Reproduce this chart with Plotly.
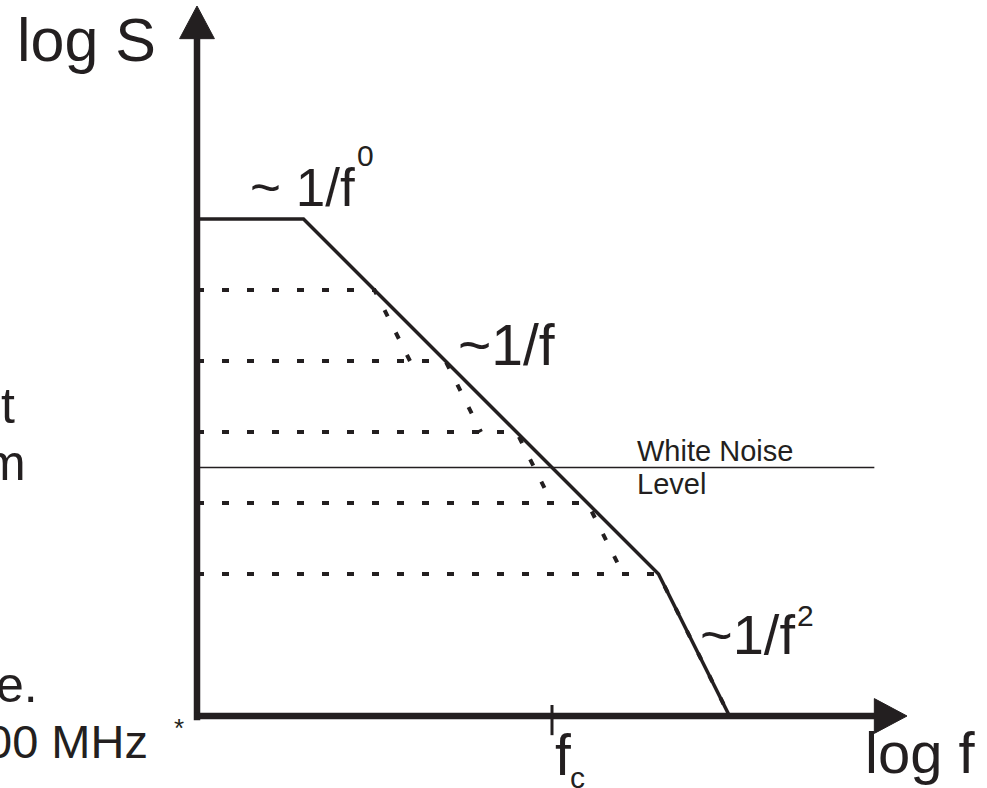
import plotly.graph_objects as go

# Spectral density sketch, axes in decades: log f (horizontal), log S (vertical)
INK = "#231f20"
FONT = "Liberation Sans, Arial, sans-serif"

# Total spectrum: flat plateau, 1/f region, 1/f^2 roll-off
total_logf = [0.0, 1.5, 6.5, 7.5]
total_logS = [7.0, 7.0, 2.0, 0.0]

# Individual Lorentzian contributions: plateau level, corner, end of drawn tail
lor_level = [6.0, 5.0, 4.0, 3.0, 2.0]
lor_corner = [2.5, 3.5, 4.5, 5.5, 6.5]
lor_tail_logf = [3.0, 4.0, 5.0, 6.0, 7.5]
lor_tail_logS = [5.0, 4.0, 3.0, 2.0, 0.0]

white_noise_level = 3.5
white_noise_end = 9.54
f_corner = 5.0
axis_end = 10.0

# scale: one decade = 71 px on a 987 x 788 canvas, origin at (197, 716)
W, H = 987, 788
UNIT = 71.0
X0, Y0 = 197.0, 716.0

fig = go.Figure()

# axes with arrowheads
head_len, head_half = 0.46, 0.245
fig.add_trace(go.Scatter(x=[0, 0], y=[-0.06, axis_end - head_len + 0.02], mode="lines",
                         line=dict(color=INK, width=6.5), hoverinfo="skip"))
fig.add_trace(go.Scatter(x=[-0.04, axis_end - head_len + 0.02], y=[0, 0], mode="lines",
                         line=dict(color=INK, width=6.5), hoverinfo="skip"))
fig.add_trace(go.Scatter(x=[-head_half, head_half, 0, -head_half],
                         y=[axis_end - head_len, axis_end - head_len, axis_end, axis_end - head_len],
                         mode="lines", fill="toself", fillcolor=INK,
                         line=dict(color=INK, width=1), hoverinfo="skip"))
fig.add_trace(go.Scatter(x=[axis_end - head_len, axis_end - head_len, axis_end, axis_end - head_len],
                         y=[-head_half, head_half, 0, -head_half],
                         mode="lines", fill="toself", fillcolor=INK,
                         line=dict(color=INK, width=1), hoverinfo="skip"))

# white noise level
fig.add_trace(go.Scatter(x=[0, white_noise_end], y=[white_noise_level] * 2, mode="lines",
                         line=dict(color=INK, width=1.5), hoverinfo="skip"))

# Lorentzian components (dashed)
for lvl, c, tx, ty in zip(lor_level, lor_corner, lor_tail_logf, lor_tail_logS):
    fig.add_trace(go.Scatter(x=[0, c, tx], y=[lvl, lvl, ty], mode="lines",
                             line=dict(color=INK, width=4, dash="7px,18px"),
                             hoverinfo="skip"))

# total spectrum (solid)
fig.add_trace(go.Scatter(x=total_logf, y=total_logS, mode="lines",
                         line=dict(color=INK, width=3.5), hoverinfo="skip"))

# corner-frequency tick
fig.add_trace(go.Scatter(x=[f_corner, f_corner], y=[0.155, -0.27], mode="lines",
                         line=dict(color=INK, width=3), hoverinfo="skip"))


def label(text, x, y, size, xanchor="left"):
    fig.add_annotation(text=text, x=x, y=y, xref="x", yref="y", showarrow=False,
                       xanchor=xanchor, yanchor="middle",
                       font=dict(family=FONT, size=size, color=INK))


label("log S", -2.56, 9.52, 61)
label("~ 1/f", 0.72, 7.45, 53)
label("0", 2.23, 7.90, 30)
label("~1/f", 3.65, 5.22, 57)
label("~1/f", 7.05, 1.15, 56)
label("2", 8.42, 1.42, 30)
label("f", 5.01, -0.552, 57)
label("c", 5.22, -0.87, 30)
label("log f", 9.38, -0.52, 58)
label("White Noise", 6.17, 3.73, 29)
label("Level", 6.17, 3.27, 29)

# fragments of the surrounding slide text
label("t", -2.53, 4.37, 50, xanchor="right")
label("m", -2.38, 3.57, 50, xanchor="right")
label("e.", -2.21, 0.44, 50, xanchor="right")
label("00 MHz", -0.66, -0.36, 47, xanchor="right")
label("*", -0.25, -0.163, 26, xanchor="center")

fig.update_layout(
    width=W, height=H, margin=dict(l=0, r=0, t=0, b=0),
    paper_bgcolor="white", plot_bgcolor="white", showlegend=False,
    xaxis=dict(range=[-X0 / UNIT, (W - X0) / UNIT], visible=False, fixedrange=True),
    yaxis=dict(range=[-(H - Y0) / UNIT, Y0 / UNIT], visible=False, fixedrange=True),
)

fig.write_html("out.html")
